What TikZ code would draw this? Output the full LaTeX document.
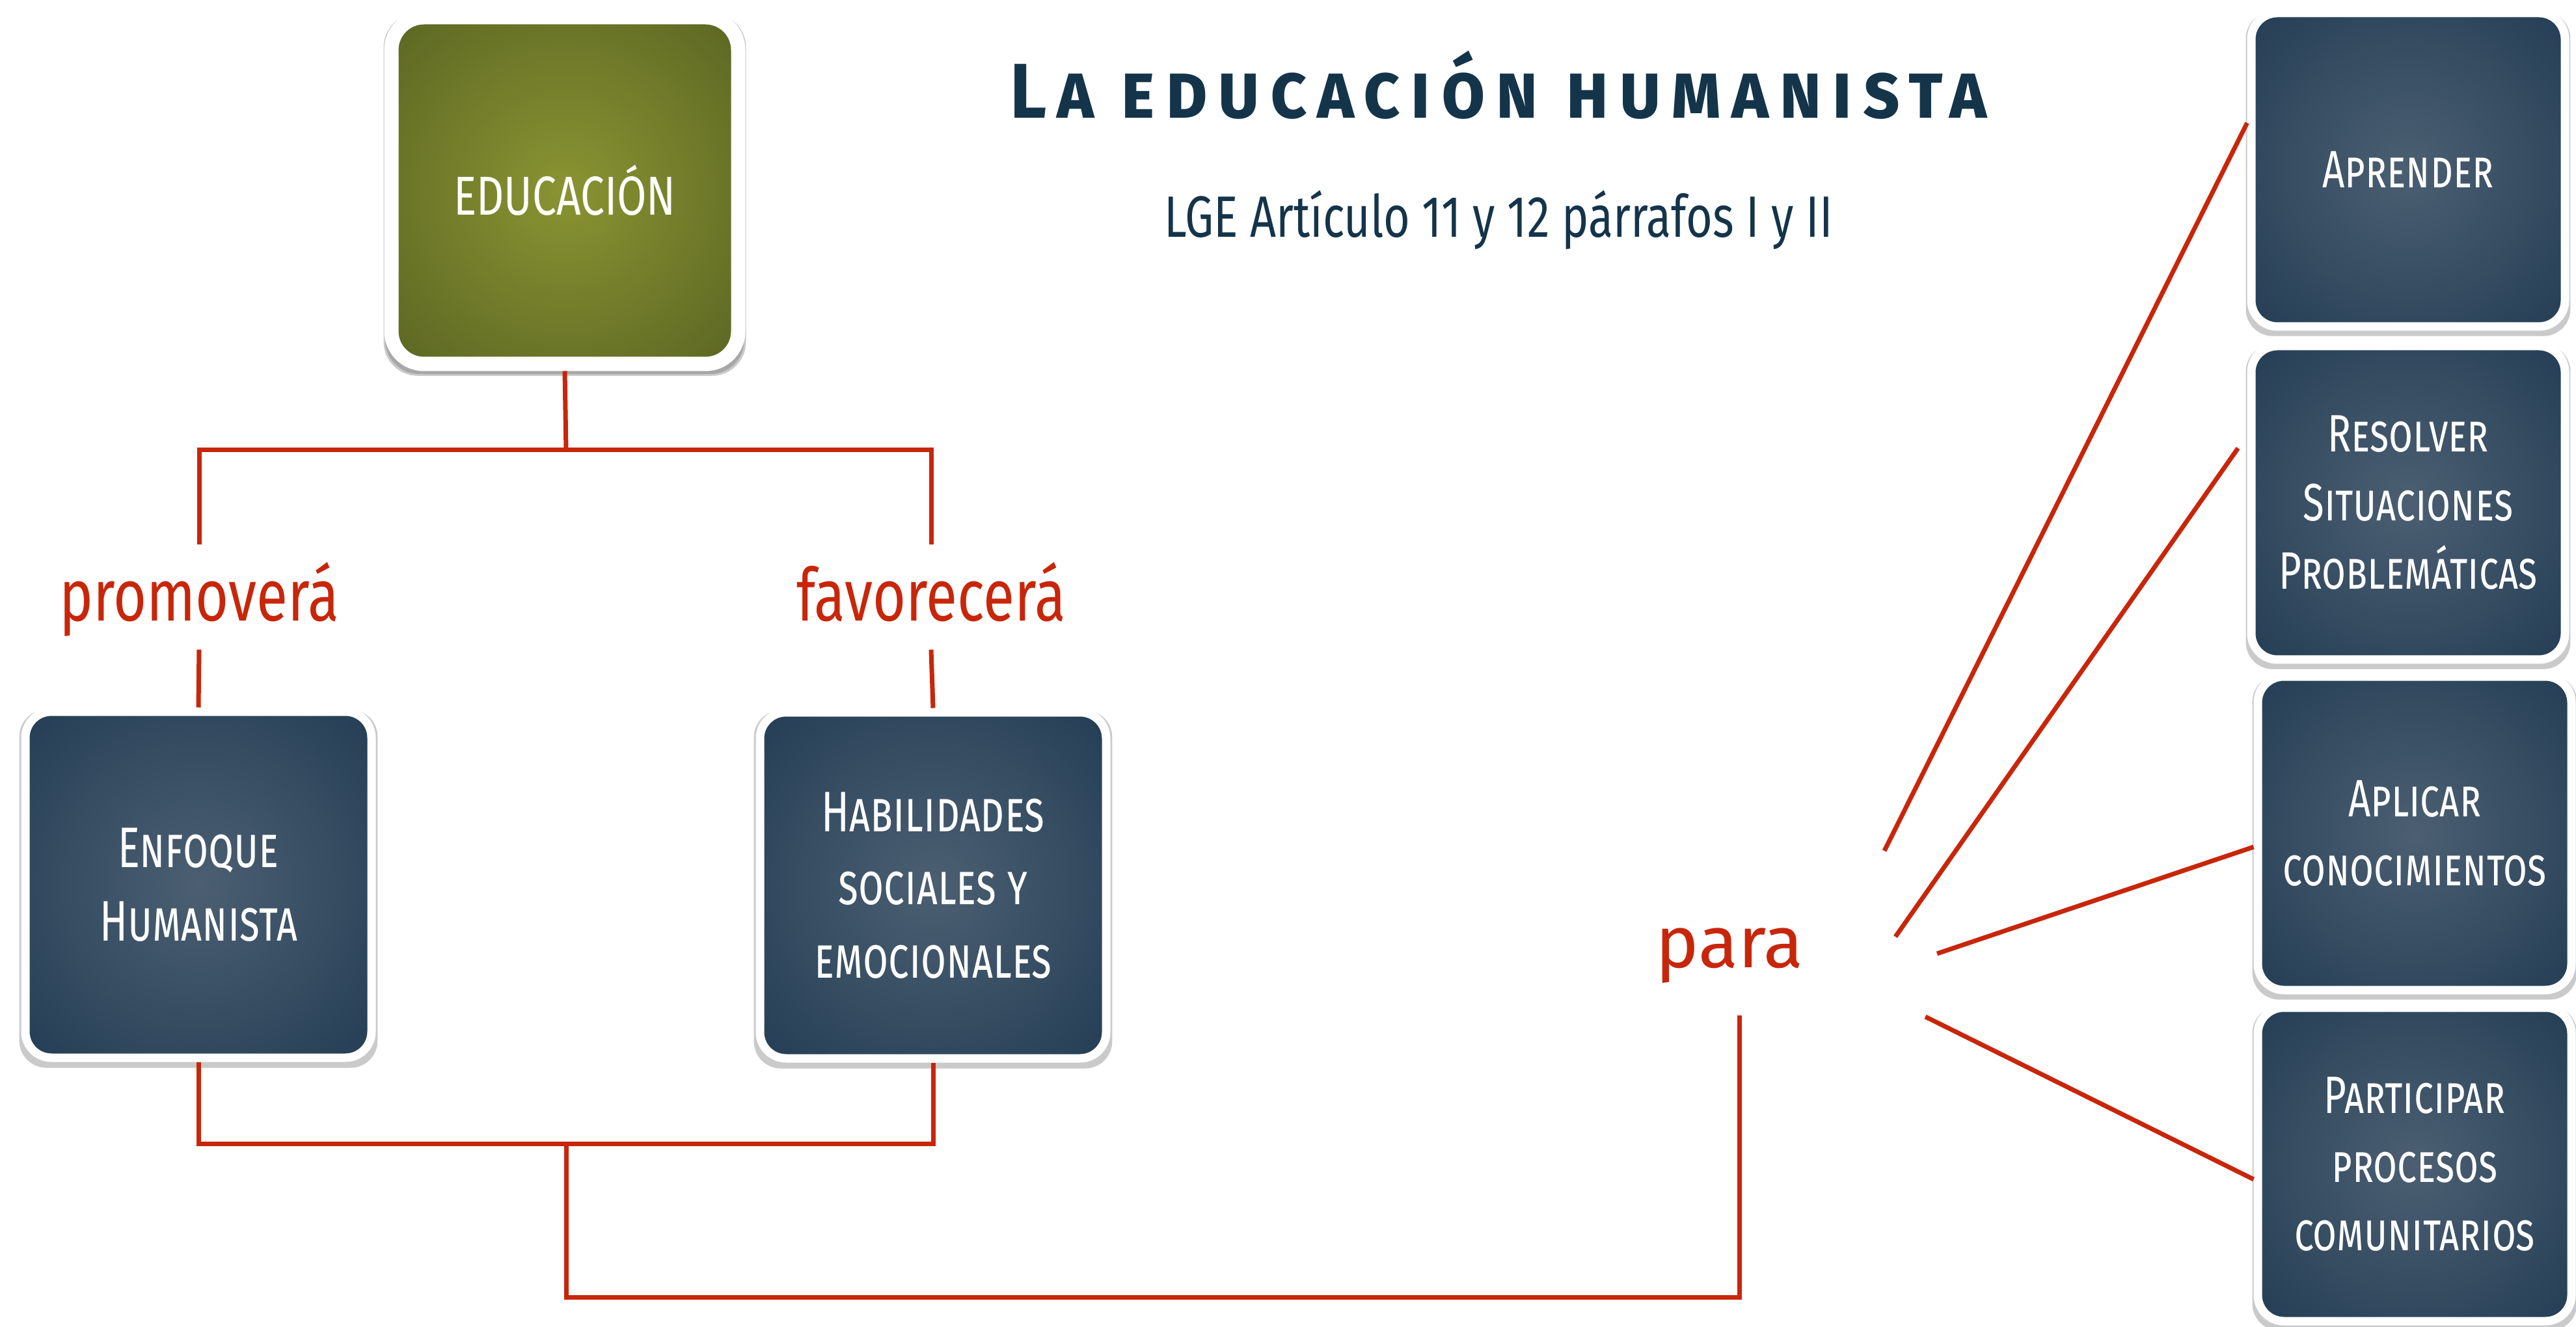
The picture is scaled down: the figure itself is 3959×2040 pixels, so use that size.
\documentclass[tikz,border=0pt]{standalone}
\usepackage{fontspec}
\setmainfont{Fira Sans}
\newfontfamily\narrowfont{Fira Sans}[FakeStretch=0.78]
\newfontfamily\tilefont{Fira Sans}[FakeStretch=0.72]
\newfontfamily\goalfont{Fira Sans}[FakeStretch=0.74]
\newfontfamily\titlefont{Fira Sans}[FakeStretch=0.92,LetterSpace=13]
\usetikzlibrary{shadows}

\definecolor{linkred}{RGB}{200,38,10}
\definecolor{inkblue}{RGB}{20,52,74}
\definecolor{navyin}{RGB}{76,95,114}
\definecolor{navyout}{RGB}{24,52,76}
\definecolor{olivein}{RGB}{138,148,50}
\definecolor{oliveout}{RGB}{74,85,30}
\pgfdeclareradialshading{navyglow}{\pgfpoint{0bp}{0bp}}{color(0bp)=(navyin); color(46bp)=(navyout)}
\pgfdeclareradialshading{oliveglow}{\pgfpoint{0bp}{0bp}}{color(0bp)=(olivein); color(48bp)=(oliveout)}

\begin{document}
\begin{tikzpicture}[x=0.1mm, y=-0.1mm,
    tile/.style ={draw=white, line width=1.3mm, rounded corners=4mm, shade, shading=navyglow,
      minimum width=53.2mm, minimum height=53.2mm, inner sep=0pt, align=center, text=white,
      drop shadow={shadow xshift=0mm, shadow yshift=-0.6mm, shadow scale=1.035, opacity=.35, fill=black!60},
      font=\tilefont\scshape\fontsize{25pt}{32pt}\selectfont},
    goal/.style ={tile, minimum width=48.2mm, minimum height=48.2mm,
      font=\goalfont\scshape\fontsize{23pt}{30pt}\selectfont},
    verb/.style ={text=linkred, anchor=base, inner sep=0pt, text height=11.7mm, text depth=4.3mm,
      font=\narrowfont\fontsize{32pt}{36pt}\selectfont},
    link/.style ={draw=linkred, line width=0.7mm}]
   \useasboundingbox (0,0) rectangle (3959,2040);

   % titulo
   \node[anchor=base, text=inkblue, font=\titlefont\bfseries\scshape\fontsize{34pt}{40pt}\selectfont] (head) at (2303,182) {La educación humanista};
   \node[anchor=base, text=inkblue, font=\narrowfont\fontsize{25.5pt}{30pt}\selectfont] (sub) at (2303,365) {LGE Artículo 11 y 12 párrafos I y II};

   % cajas
   \node[tile, shading=oliveglow, line width=2.2mm, rounded corners=5mm, minimum width=53.3mm, minimum height=53.3mm,
     drop shadow={shadow xshift=0mm, shadow yshift=-0.6mm, shadow scale=1.045, opacity=.35, fill=black!60},
     font=\narrowfont\fontsize{24pt}{30pt}\selectfont] (edu) at (868,293) {EDUCACIÓN};
   \node[tile] (enf) at (305,1360) {Enfoque\\Humanista};
   \node[tile] (hab) at (1434,1361) {Habilidades\\sociales y\\emocionales};

   \node[goal] (apr) at (3701,261) {Aprender};
   \node[goal] (res) at (3701,773) {Resolver\\Situaciones\\Problemáticas};
   \node[goal] (apl) at (3711,1281) {Aplicar\\conocimientos};
   \node[goal] (par) at (3711,1790) {Participar\\procesos\\comunitarios};

   % verbos
   \node[verb] (prom) at (306,955) {promoverá};
   \node[verb] (fav)  at (1431,955) {favorecerá};
   \node[verb, text depth=7.3mm, font=\fontsize{32pt}{36pt}\selectfont] (para) at (2658,1487) {para};

   \coordinate (top)  at (870,692);
   \coordinate (low)  at (870,1758);
   \coordinate (base) at (870,1994);
   \coordinate (r1) at (2896,1308);
   \coordinate (r2) at (2913,1440);
   \coordinate (r3) at (2977,1466);
   \coordinate (r4) at (2959,1563);

   \draw[link] (edu.south) -- (top);
   \draw[link] (prom.north) |- (top) -| (fav.north);
   \draw[link] (prom.south) -- (enf.north);
   \draw[link] (fav.south) -- (hab.north);
   \draw[link] (enf.south) |- (low) -| (hab.south);
   \draw[link] (low) -- (base) -| ([xshift=1.5mm]para.south);

   \draw[link] (r1) -- ([yshift=7.2mm]apr.west);
   \draw[link] (r2) -- ([xshift=-1.4mm,yshift=8.4mm]res.west);
   \draw[link] (r3) -- ([yshift=-2.1mm]apl.west);
   \draw[link] (r4) -- ([yshift=-2.3mm]par.west);
 \end{tikzpicture}
\end{document}
